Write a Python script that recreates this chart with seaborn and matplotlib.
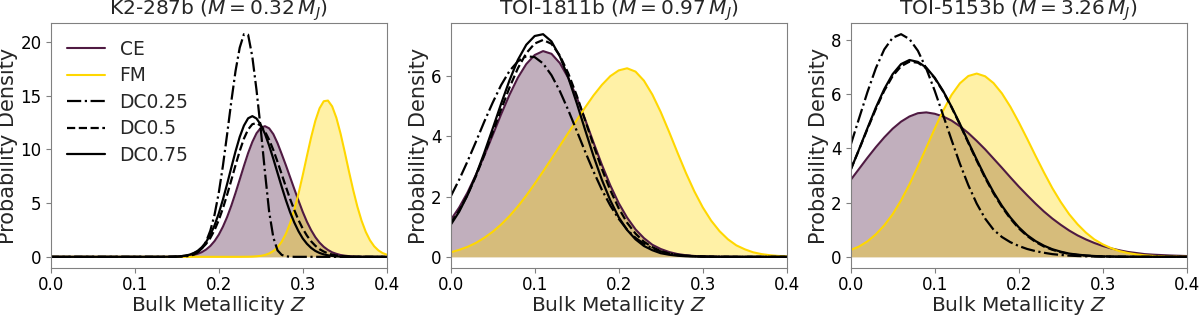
import numpy as np
import matplotlib
matplotlib.use("Agg")
import matplotlib.pyplot as plt
import seaborn as sns

# Z grids
z_k2 = [0.0, 0.1,
        0.130, 0.135, 0.140, 0.145, 0.150, 0.155, 0.160, 0.165, 0.170, 0.175,
        0.180, 0.185, 0.190, 0.195, 0.200, 0.205, 0.210, 0.215, 0.220, 0.225,
        0.230, 0.235, 0.240, 0.245, 0.250, 0.255, 0.260, 0.265, 0.270, 0.275,
        0.280, 0.285, 0.290, 0.295, 0.300, 0.305, 0.310, 0.315, 0.320, 0.325,
        0.330, 0.335, 0.340, 0.345, 0.350, 0.355, 0.360, 0.365, 0.370, 0.375,
        0.380, 0.385, 0.390, 0.395, 0.400]
z_wide = [0.00, 0.01, 0.02, 0.03, 0.04, 0.05, 0.06, 0.07, 0.08, 0.09,
          0.10, 0.11, 0.12, 0.13, 0.14, 0.15, 0.16, 0.17, 0.18, 0.19,
          0.20, 0.21, 0.22, 0.23, 0.24, 0.25, 0.26, 0.27, 0.28, 0.29,
          0.30, 0.31, 0.32, 0.33, 0.34, 0.35, 0.36, 0.37, 0.38, 0.39, 0.40]

# K2-287b
k2_ce = [0, 0,
         .001, .002, .005, .009, .018, .033, .059, .10, .17, .28,
         .44, .68, 1.01, 1.46, 2.05, 2.80, 3.70, 4.76, 5.94, 7.19,
         8.45, 9.65, 10.68, 11.49, 11.99, 12.15, 11.95, 11.41, 10.57, 9.55,
         8.5, 7.4, 6.3, 5.22, 4.18, 3.26, 2.48, 1.83, 1.32, .93,
         .64, .42, .28, .17, .11, .065, .04, .02, .012, .006,
         .003, .002, .001, 0, 0]
k2_fm = [0, 0,
         0, 0, 0, 0, 0, 0, 0, 0, 0, 0,
         0, 0, 0, 0, 0, 0, 0, 0, .001, .002,
         .005, .01, .02, .05, .09, .17, .31, .54, .88, 1.41,
         2.15, 3.13, 4.39, 5.89, 7.59, 9.38, 11.12, 12.65, 13.81, 14.47,
         14.53, 13.99, 12.93, 11.46, 9.74, 7.94, 6.22, 4.67, 3.36, 2.32,
         1.54, .98, .60, .35, .20]
k2_dc25 = [0, 0,
           0, 0, .001, .003, .007, .02, .04, .09, .20, .41,
           .78, 1.42, 2.43, 3.90, 5.92, 8.46, 11.39, 14.45, 17.27, 19.45,
           20.7, 20.65, 18.6, 15.5, 11.9, 7.9, 4.2, 1.8, .6, .18,
           .05, .01, 0, 0, 0, 0, 0, 0, 0, 0,
           0, 0, 0, 0, 0, 0, 0, 0, 0, 0,
           0, 0, 0, 0, 0]
k2_dc50 = [0, 0,
           .001, .004, .008, .016, .031, .058, .10, .18, .31, .50,
           .79, 1.20, 1.75, 2.48, 3.40, 4.51, 5.77, 7.13, 8.52, 9.84,
           10.99, 11.84, 12.33, 12.44, 12.19, 11.66, 10.89, 9.93, 8.83, 7.67,
           6.50, 5.37, 4.34, 3.41, 2.62, 1.97, 1.44, 1.03, .71, .49,
           .32, .21, .13, .082, .05, .029, .016, .009, .005, .002,
           .001, 0, 0, 0, 0]
k2_dc75 = [0, 0,
           .001, .003, .007, .015, .03, .059, .11, .195, .34, .56,
           .90, 1.38, 2.05, 2.92, 4.02, 5.32, 6.77, 8.30, 9.80, 11.15,
           12.20, 12.88, 13.08, 12.86, 12.29, 11.44, 10.35, 9.11, 7.80, 6.50,
           5.26, 4.14, 3.18, 2.37, 1.71, 1.21, .83, .55, .36, .23,
           .14, .084, .048, .027, .015, .008, .004, .002, .001, 0,
           0, 0, 0, 0, 0]

# TOI-1811b
t1811_ce = [1.22, 1.63, 2.13, 2.72, 3.35, 4.03, 4.72, 5.37, 5.94, 6.39,
            6.69, 6.82, 6.73, 6.42, 5.93, 5.29, 4.56, 3.79, 3.05, 2.37,
            1.78, 1.30, .91, .62, .40, .26, .16, .093, .053, .029,
            .015, .008, .004, .002, .001, 0, 0, 0, 0, 0, 0]
t1811_fm = [.15, .23, .33, .46, .63, .83, 1.07, 1.35, 1.67, 2.03,
            2.42, 2.83, 3.25, 3.68, 4.11, 4.53, 4.95, 5.35, 5.70, 5.99,
            6.18, 6.25, 6.14, 5.84, 5.38, 4.80, 4.14, 3.45, 2.78, 2.17,
            1.64, 1.20, .85, .58, .38, .25, .15, .091, .053, .03, .016]
t1811_dc25 = [2.00, 2.55, 3.16, 3.81, 4.48, 5.11, 5.69, 6.16, 6.48, 6.65,
              6.62, 6.41, 6.02, 5.49, 4.86, 4.18, 3.49, 2.83, 2.22, 1.70,
              1.26, .90, .63, .43, .28, .18, .11, .067, .039, .022,
              .012, .006, .003, .001, 0, 0, 0, 0, 0, 0, 0]
t1811_dc50 = [1.11, 1.53, 2.05, 2.67, 3.37, 4.12, 4.88, 5.61, 6.25, 6.75,
              7.07, 7.19, 7.06, 6.67, 6.08, 5.35, 4.53, 3.70, 2.91, 2.21,
              1.61, 1.13, .77, .50, .32, .19, .11, .064, .035, .019,
              .009, .005, .002, .001, 0, 0, 0, 0, 0, 0, 0]
t1811_dc75 = [1.06, 1.49, 2.04, 2.70, 3.45, 4.25, 5.07, 5.85, 6.53, 7.03,
              7.32, 7.38, 7.14, 6.64, 5.94, 5.10, 4.21, 3.34, 2.55, 1.87,
              1.31, .89, .58, .36, .22, .12, .07, .037, .019, .01,
              .005, .002, .001, 0, 0, 0, 0, 0, 0, 0, 0]

# TOI-5153b
t5153_ce = [2.83, 3.24, 3.65, 4.04, 4.40, 4.72, 4.98, 5.17, 5.29, 5.32,
            5.27, 5.17, 5.02, 4.81, 4.56, 4.27, 3.96, 3.62, 3.28, 2.93,
            2.59, 2.27, 1.96, 1.67, 1.41, 1.18, .97, .79, .64, .51,
            .40, .31, .24, .18, .14, .10, .08, .065, .05, .04, .03]
t5153_fm = [.25, .38, .57, .83, 1.16, 1.57, 2.08, 2.67, 3.33, 4.02,
            4.72, 5.38, 5.96, 6.39, 6.66, 6.75, 6.65, 6.40, 6.02, 5.53,
            4.96, 4.35, 3.72, 3.11, 2.53, 2.02, 1.57, 1.20, .89, .64,
            .46, .32, .21, .14, .091, .057, .035, .021, .012, .007, .004]
t5153_dc25 = [4.12, 5.10, 6.07, 6.95, 7.64, 8.07, 8.20, 8.02, 7.59, 6.93,
              6.12, 5.22, 4.31, 3.43, 2.64, 1.96, 1.41, 1.0, .73, .54,
              .40, .29, .21, .15, .10, .07, .045, .03, .02, .012,
              .007, .004, .002, 0, 0, 0, 0, 0, 0, 0, 0]
t5153_dc50 = [3.21, 3.95, 4.71, 5.45, 6.12, 6.66, 7.02, 7.19, 7.15, 6.94,
              6.58, 6.09, 5.51, 4.87, 4.20, 3.54, 2.91, 2.34, 1.84, 1.41,
              1.05, .77, .55, .38, .26, .17, .11, .07, .045, .027,
              .016, .009, .005, .003, .001, 0, 0, 0, 0, 0, 0]
t5153_dc75 = [3.20, 3.96, 4.74, 5.50, 6.18, 6.73, 7.10, 7.25, 7.18, 6.97,
              6.60, 6.11, 5.53, 4.90, 4.23, 3.58, 2.95, 2.38, 1.88, 1.45,
              1.09, .80, .58, .41, .28, .19, .12, .08, .05, .03,
              .018, .01, .006, .003, .002, .001, 0, 0, 0, 0, 0]

titles = [r"K2-287b ($M = 0.32\,M_J$)",
          r"TOI-1811b ($M = 0.97\,M_J$)",
          r"TOI-5153b ($M = 3.26\,M_J$)"]
panels = [
    (z_k2, k2_ce, k2_fm, k2_dc25, k2_dc50, k2_dc75),
    (z_wide, t1811_ce, t1811_fm, t1811_dc25, t1811_dc50, t1811_dc75),
    (z_wide, t5153_ce, t5153_fm, t5153_dc25, t5153_dc50, t5153_dc75),
]

sns.set_style("ticks")
plt.rcParams['font.family'] = ['DejaVu Sans']
plt.rcParams['axes.edgecolor'] = '#808080'
plt.rcParams['xtick.color'] = '#808080'
plt.rcParams['ytick.color'] = '#808080'
plt.rcParams['xtick.labelcolor'] = 'black'
plt.rcParams['ytick.labelcolor'] = 'black'
plt.rcParams['xtick.major.size'] = 3.5
plt.rcParams['ytick.major.size'] = 3.5
plt.rcParams['xtick.major.pad'] = 2.5
plt.rcParams['ytick.major.pad'] = 3.0

ce_col = '#4f1a42'
fm_col = '#ffd700'

fig, axes = plt.subplots(1, 3, figsize=(12, 3.16), dpi=100)
fig.subplots_adjust(left=0.0422, right=0.989, bottom=0.152, top=0.927, wspace=0.19)

for i, (ax, (z, ce, fm, dc25, dc50, dc75)) in enumerate(zip(axes, panels)):
    first = i == 0
    ax.fill_between(z, 0, ce, color=ce_col, alpha=0.35, lw=0)
    sns.lineplot(x=z, y=ce, ax=ax, color=ce_col, lw=1.5, label='CE' if first else None, legend=False)
    ax.fill_between(z, 0, fm, color=fm_col, alpha=0.35, lw=0)
    sns.lineplot(x=z, y=fm, ax=ax, color=fm_col, lw=1.5, label='FM' if first else None, legend=False)
    sns.lineplot(x=z, y=dc25, ax=ax, color='black', lw=1.6, linestyle='-.', label='DC0.25' if first else None, legend=False)
    sns.lineplot(x=z, y=dc50, ax=ax, color='black', lw=1.6, linestyle='--', label='DC0.5' if first else None, legend=False)
    sns.lineplot(x=z, y=dc75, ax=ax, color='black', lw=1.6, linestyle='-', label='DC0.75' if first else None, legend=False)
    ax.set_xlim(0, 0.4)
    ax.set_xticks([0.0, 0.1, 0.2, 0.3, 0.4])
    ax.set_title(titles[i], fontsize=14.5, pad=0.5)
    ax.set_xlabel(r"Bulk Metallicity $Z$", fontsize=14.5, labelpad=-0.5)
    ax.set_ylabel("Probability Density", fontsize=15, labelpad=1.5)
    ax.tick_params(labelsize=12)
    if first:
        ax.legend(loc='upper left', frameon=False, fontsize=13.4, labelspacing=0.4)

fig.savefig("out.png", dpi=100)
